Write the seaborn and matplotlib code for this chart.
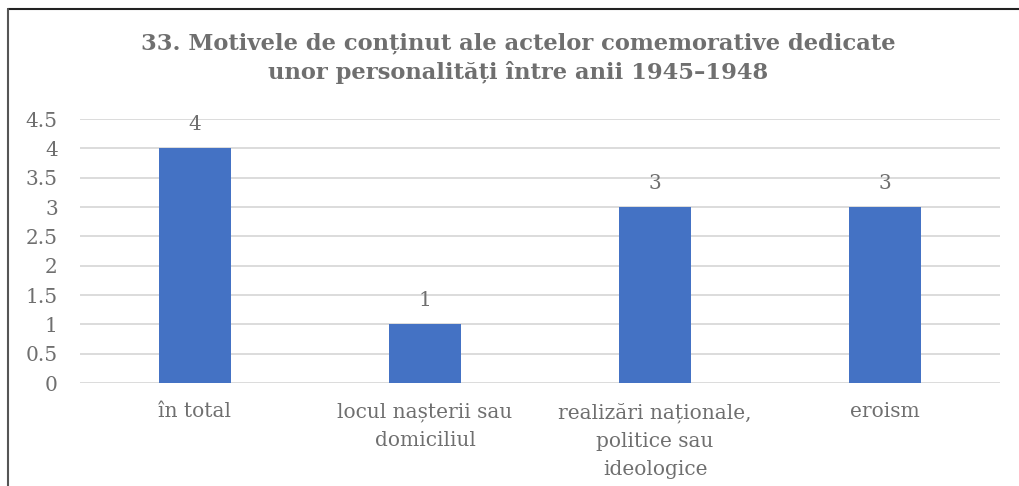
import matplotlib
matplotlib.use("Agg")
import matplotlib.pyplot as plt
import seaborn as sns
import pandas as pd
from matplotlib.lines import Line2D
from matplotlib.ticker import FuncFormatter

categories = ["în total", "locul nașterii sau\ndomiciliul",
              "realizări naționale,\npolitice sau\nideologice", "eroism"]
values = [4, 1, 3, 3]
yticks = [0, 0.5, 1, 1.5, 2, 2.5, 3, 3.5, 4, 4.5]
title = "33. Motivele de conținut ale actelor comemorative dedicate\nunor personalități între anii 1945–1948"

sns.set_theme(style="white")
plt.rcParams['font.family'] = ['DejaVu Serif']

TEXT = "#6f6f6f"
fig = plt.figure(figsize=(10.2, 4.86), dpi=100)
ax = fig.add_axes([80/1020, (486-383)/486, 920/1020, 264/486])

df = pd.DataFrame({"cat": categories, "val": values})
sns.barplot(data=df, x="cat", y="val", color="#4472C4", width=0.313,
            saturation=1, linewidth=0, ax=ax)

ax.set_ylim(0, 4.5)
ax.set_yticks(yticks)
ax.yaxis.set_major_formatter(FuncFormatter(lambda v, p: f"{v:g}"))
ax.grid(axis="y", color="#d9d9d9", linewidth=1.3)
ax.set_axisbelow(True)
for s in ax.spines.values():
    s.set_visible(False)
ax.tick_params(axis="both", length=0, colors=TEXT, labelsize=14.5)
ax.tick_params(axis="y", pad=16)
ax.tick_params(axis="x", pad=14)
for lbl in ax.get_xticklabels():
    lbl.set_linespacing(1.6)
ax.set_xlabel("")
ax.set_ylabel("")

for c in ax.containers:
    ax.bar_label(c, labels=[f"{v:g}" for v in values], padding=10,
                 color=TEXT, fontsize=14.5)

fig.text(518/1020, 1 - 58/486, title, ha="center", va="center", fontsize=16.3,
         fontweight="bold", color=TEXT, linespacing=1.38)

fig.add_artist(Line2D([8/1020, 1], [1-9/486, 1-9/486], color="#222222", lw=1.5,
                      transform=fig.transFigure))
fig.add_artist(Line2D([8/1020, 8/1020], [0, 1-9/486], color="#555555", lw=1.5,
                      transform=fig.transFigure))

fig.savefig("out.png", dpi=100)
